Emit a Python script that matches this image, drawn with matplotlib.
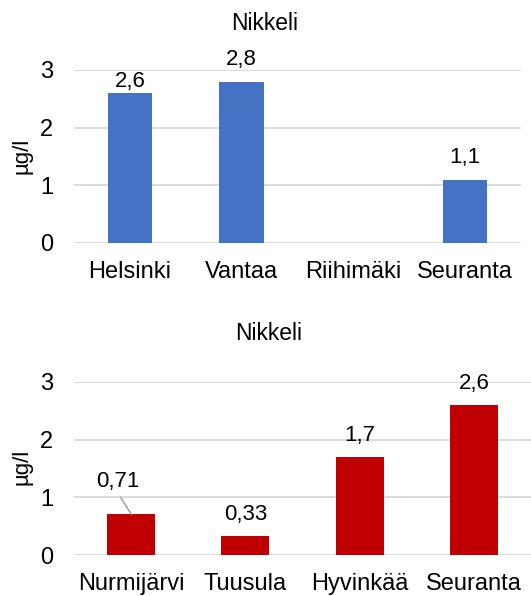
import matplotlib
matplotlib.use("Agg")
import matplotlib.pyplot as plt

plt.rcParams['font.family'] = ['Liberation Sans', 'DejaVu Sans']

title = "Nikkeli"
unit = "µg/l"

top_sites = ["Helsinki", "Vantaa", "Riihimäki", "Seuranta"]
top_values = [2.6, 2.8, None, 1.1]
top_labels = ["2,6", "2,8", "", "1,1"]

bottom_sites = ["Nurmijärvi", "Tuusula", "Hyvinkää", "Seuranta"]
bottom_values = [0.71, 0.33, 1.7, 2.6]
bottom_labels = ["0,71", "0,33", "1,7", "2,6"]

yticks = [0, 1, 2, 3]

W, H = 531, 596
fig = plt.figure(figsize=(W / 100, H / 100), dpi=100)


def px_axes(left, right, top, bottom):
    return fig.add_axes([left / W, 1 - bottom / H, (right - left) / W, (bottom - top) / H])


def style(ax, sites):
    ax.set_ylim(0, 3)
    ax.set_xlim(-0.5, len(sites) - 0.5)
    ax.set_yticks(yticks)
    ax.set_yticklabels([str(t) for t in yticks])
    ax.set_xticks(range(len(sites)))
    ax.set_xticklabels(sites)
    for s in ax.spines.values():
        s.set_visible(False)
    ax.tick_params(axis='both', length=0, labelsize=17, colors='#000000')
    ax.tick_params(axis='y', pad=15)
    ax.tick_params(axis='x', pad=13)
    ax.yaxis.grid(True, color='#D9D9D9', linewidth=1.3)
    ax.set_axisbelow(True)


def value_label(ax, x, v, text, lift=8):
    ax.annotate(text, (x, v), xytext=(0, lift), textcoords='offset points',
                ha='center', va='bottom', fontsize=16, annotation_clip=False)


# upper chart
ax1 = px_axes(74, 521, 70, 243)
style(ax1, top_sites)
xs = [i for i, v in enumerate(top_values) if v is not None]
vs = [v for v in top_values if v is not None]
ax1.bar(xs, vs, width=0.4, color='#4472C4')
for i, v in enumerate(top_values):
    if v is not None:
        # the first label sits lower so it stays clear of the title area
        value_label(ax1, i, v, top_labels[i], lift=1 if i == 0 else 8)
fig.text(265 / W, 1 - 24 / H, title, ha='center', va='center', fontsize=16.5)
fig.text(22 / W, 1 - 156 / H, unit, ha='center', va='center', rotation=90, fontsize=16)

# lower chart
ax2 = px_axes(74, 531, 382, 555)
style(ax2, bottom_sites)
ax2.bar(range(len(bottom_values)), bottom_values, width=0.42, color='#C00000')
for i, v in enumerate(bottom_values):
    if i == 0:
        # label moved up and left, joined to its bar by a leader line
        ax2.annotate(bottom_labels[i], (i, v), xytext=(-0.12, 1.27), textcoords='data',
                     ha='center', va='center', fontsize=16, annotation_clip=False,
                     arrowprops=dict(arrowstyle='-', color='#A6A6A6', lw=1.2,
                                     relpos=(0.5, 0.0), shrinkA=2, shrinkB=0))
    else:
        value_label(ax2, i, v, bottom_labels[i])
fig.text(269 / W, 1 - 334 / H, title, ha='center', va='center', fontsize=16.5)
fig.text(22 / W, 1 - 467 / H, unit, ha='center', va='center', rotation=90, fontsize=16)

fig.savefig("out.png", dpi=100)
